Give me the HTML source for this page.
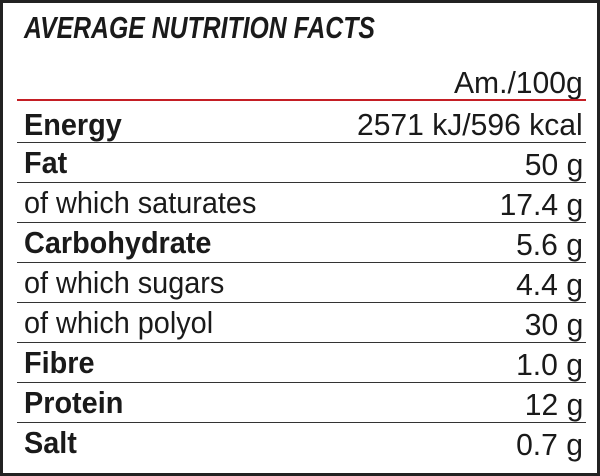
<!DOCTYPE html>
<html><head><meta charset="utf-8"><style>
html,body{margin:0;padding:0;background:#fff;}
#c{position:relative;width:600px;height:476px;overflow:hidden;background:#fff;}
#b{position:absolute;left:0;top:0;width:594px;height:470px;border:3px solid #222;}
.t{position:absolute;font-family:"Liberation Sans",sans-serif;color:#1a1a1a;white-space:nowrap;}
.l{left:24px;transform:scaleX(0.93);transform-origin:left center;}
.r{right:17px;transform:scaleX(0.97);transform-origin:right center;}
.hl{position:absolute;left:17px;width:569px;height:1px;background:#333;}
.b{font-weight:bold;}
</style></head><body><div id="c"><div id="b"></div>
<div class="t b" style="left:24px;top:8px;font-size:31px;font-style:italic;line-height:40px;transform:scaleX(0.8);transform-origin:left center;">AVERAGE NUTRITION FACTS</div>
<div class="t r" style="top:63px;font-size:31px;line-height:40px;">Am./100g</div>
<div style="position:absolute;left:17px;width:569px;top:99px;height:2px;background:#c41e24;"></div>
<div class="hl" style="top:142px"></div>
<div class="hl" style="top:182px"></div>
<div class="hl" style="top:222px"></div>
<div class="hl" style="top:262px"></div>
<div class="hl" style="top:302px"></div>
<div class="hl" style="top:342px"></div>
<div class="hl" style="top:382px"></div>
<div class="hl" style="top:422px"></div>

<div class="t l b" style="top:105px;font-size:31px;line-height:40px;">Energy</div>
<div class="t r" style="top:105px;font-size:31px;line-height:40px;">2571 kJ/596 kcal</div>
<div class="t l b" style="top:145px;font-size:31px;line-height:36px;">Fat</div>
<div class="t r" style="top:145px;font-size:31px;line-height:40px;">50 g</div>
<div class="t l" style="top:185px;font-size:31px;line-height:36px;">of which saturates</div>
<div class="t r" style="top:185px;font-size:31px;line-height:40px;">17.4 g</div>
<div class="t l b" style="top:225px;font-size:31px;line-height:36px;">Carbohydrate</div>
<div class="t r" style="top:225px;font-size:31px;line-height:40px;">5.6 g</div>
<div class="t l" style="top:265px;font-size:31px;line-height:36px;">of which sugars</div>
<div class="t r" style="top:265px;font-size:31px;line-height:40px;">4.4 g</div>
<div class="t l" style="top:305px;font-size:31px;line-height:36px;">of which polyol</div>
<div class="t r" style="top:305px;font-size:31px;line-height:40px;">30 g</div>
<div class="t l b" style="top:345px;font-size:31px;line-height:36px;">Fibre</div>
<div class="t r" style="top:345px;font-size:31px;line-height:40px;">1.0 g</div>
<div class="t l b" style="top:385px;font-size:31px;line-height:36px;">Protein</div>
<div class="t r" style="top:385px;font-size:31px;line-height:40px;">12 g</div>
<div class="t l b" style="top:425px;font-size:31px;line-height:36px;">Salt</div>
<div class="t r" style="top:425px;font-size:31px;line-height:40px;">0.7 g</div>
</div></body></html>
